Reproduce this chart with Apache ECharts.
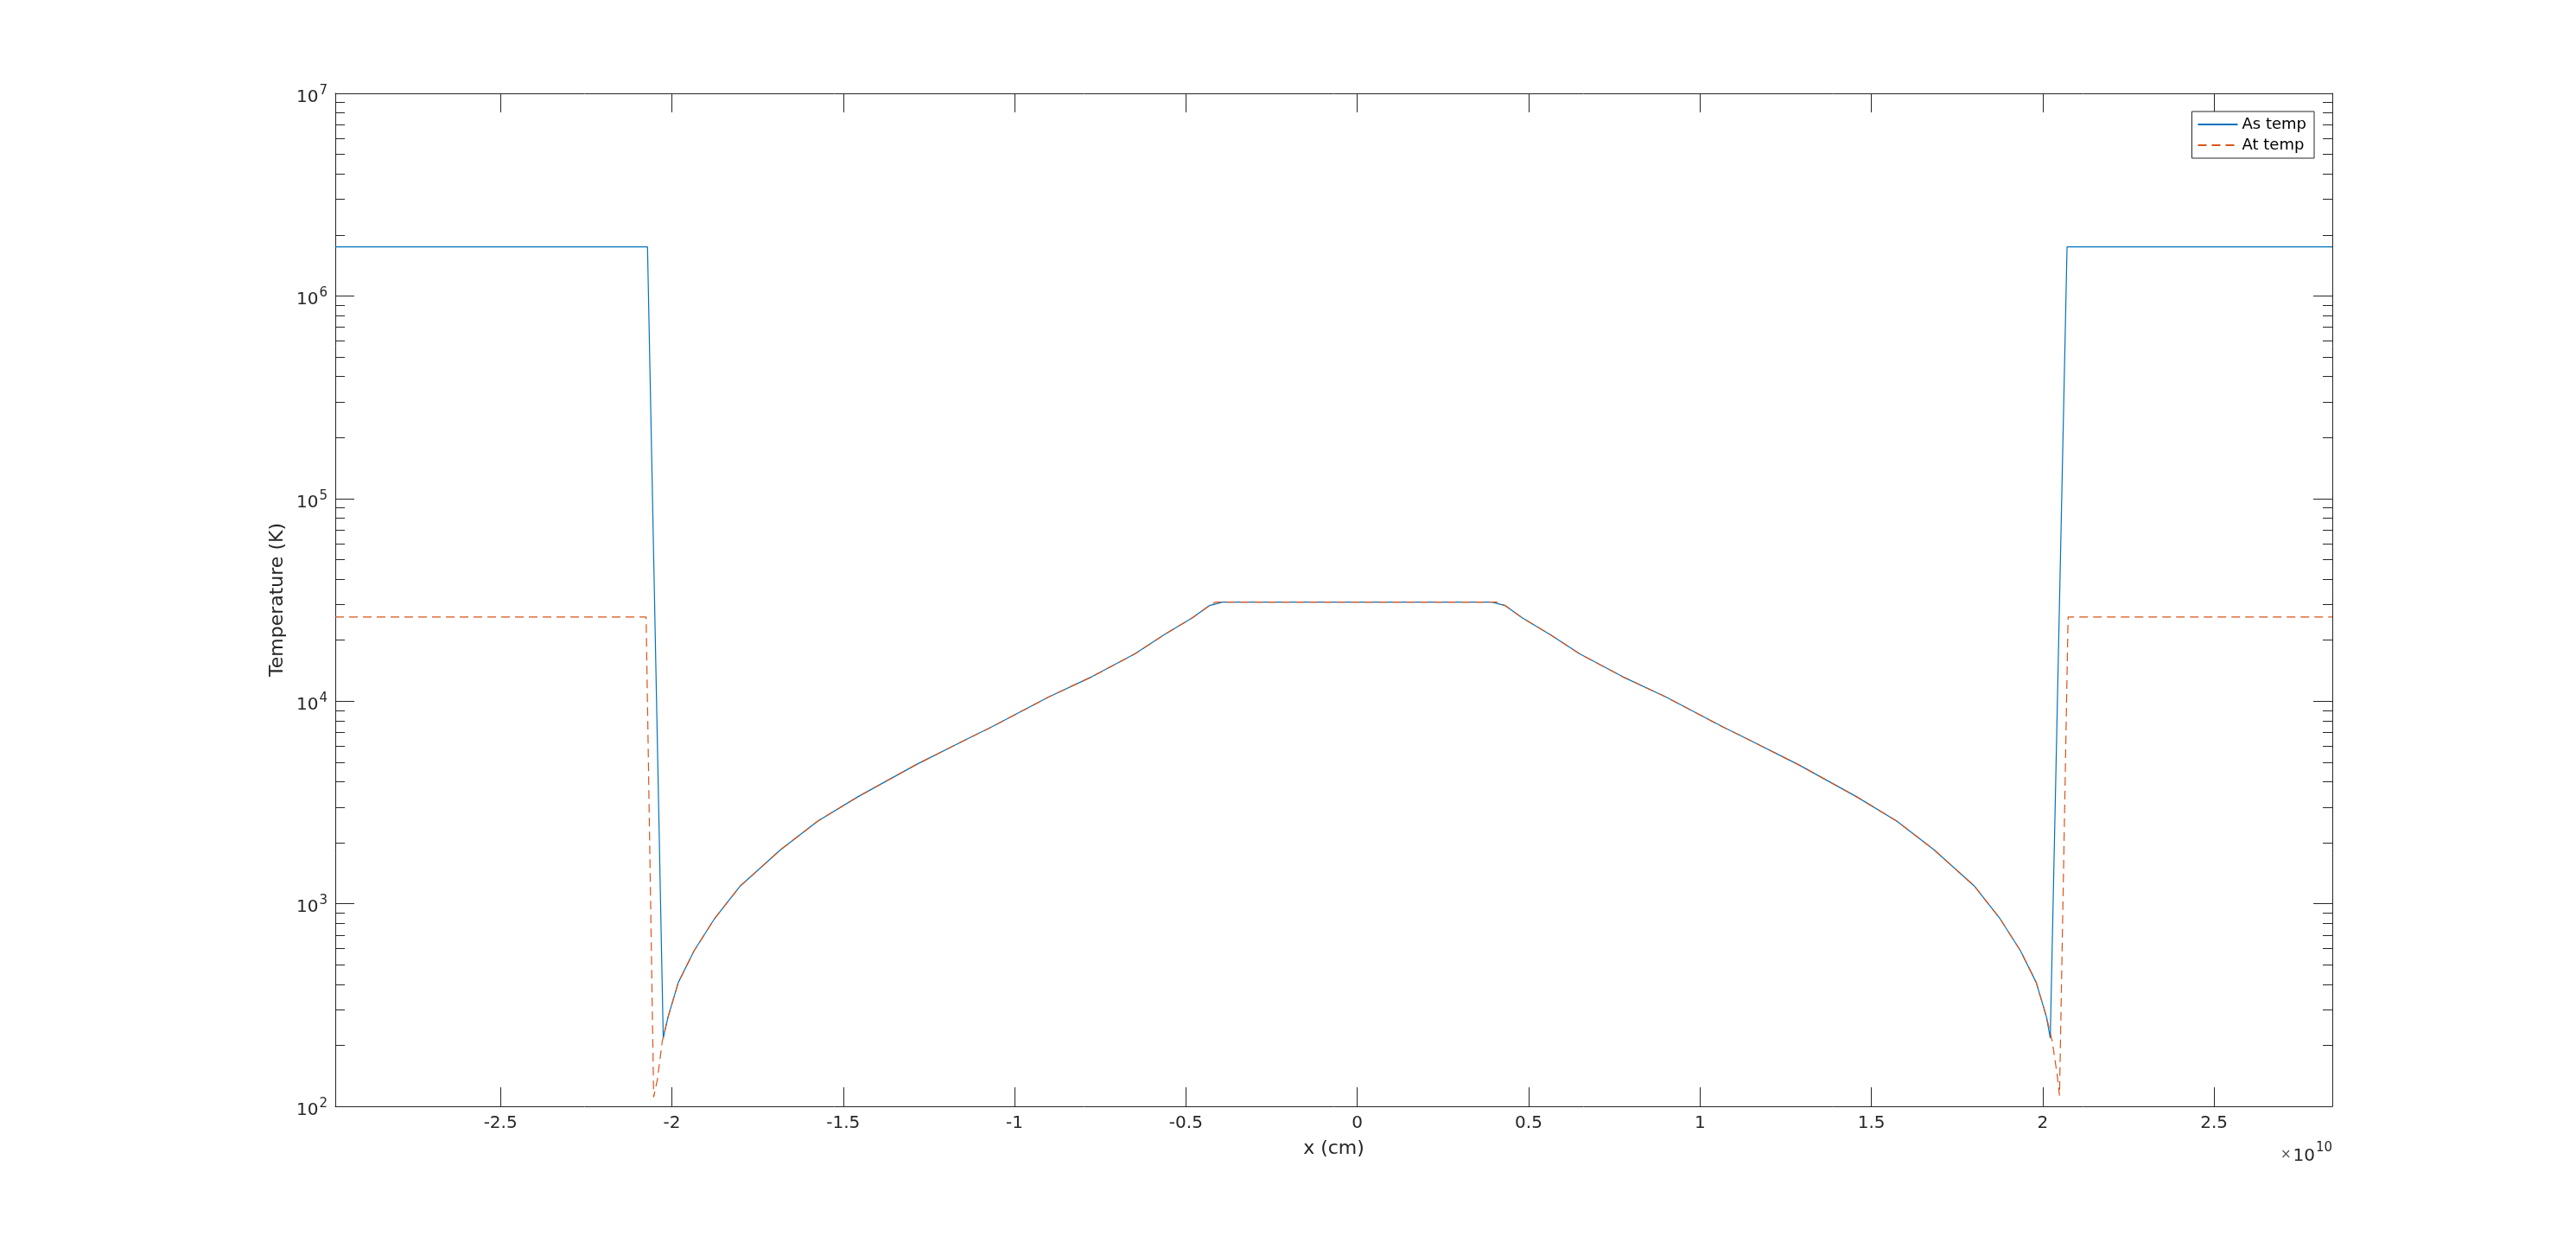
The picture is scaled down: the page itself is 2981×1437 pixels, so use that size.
<!DOCTYPE html>
<html>
<head>
<meta charset="utf-8">
<script src="https://cdn.jsdelivr.net/npm/echarts@6/dist/echarts.min.js"></script>
<style>
  html, body { margin: 0; padding: 0; background: #fff; }
  #chart { width: 2981px; height: 1437px; }
</style>
</head>
<body>
<div id="chart"></div>
<script>
// x positions in units of 1e10 cm (axis shows ×10^10)
const asX = [-2.982, -2.071, -2.025, -2.011, -1.981, -1.935, -1.876, -1.800, -1.683, -1.574, -1.456, -1.288, -1.137, -1.069, -0.901, -0.775, -0.649, -0.565, -0.481, -0.431, -0.393,
             0.393, 0.431, 0.481, 0.565, 0.649, 0.775, 0.901, 1.069, 1.137, 1.288, 1.456, 1.574, 1.683, 1.800, 1.876, 1.935, 1.981, 2.011, 2.022, 2.071, 2.845];
const asT = [1.745e6, 1.745e6, 217, 276, 409, 586, 841, 1225, 1845, 2560, 3380, 4850, 6520, 7420, 10470, 13180, 17100, 21200, 25800, 29650, 30800,
             30800, 29650, 25800, 21200, 17100, 13180, 10470, 7420, 6520, 4850, 3380, 2560, 1845, 1225, 841, 586, 409, 276, 217, 1.745e6, 1.745e6];

const atX = [-2.982, -2.075, -2.053, -2.042, -2.032, -2.028, -2.011, -1.981, -1.935, -1.876, -1.800, -1.683, -1.574, -1.456, -1.288, -1.137, -1.069, -0.901, -0.775, -0.649, -0.565, -0.481, -0.431, -0.414,
             0.406, 0.431, 0.481, 0.565, 0.649, 0.775, 0.901, 1.069, 1.137, 1.288, 1.456, 1.574, 1.683, 1.800, 1.876, 1.935, 1.981, 2.011, 2.028, 2.034, 2.042, 2.049, 2.074, 2.845];
const atT = [26000, 26000, 111, 136, 185, 209, 276, 409, 586, 841, 1225, 1845, 2560, 3380, 4850, 6520, 7420, 10470, 13180, 17100, 21200, 25800, 29650, 30800,
             30800, 29650, 25800, 21200, 17100, 13180, 10470, 7420, 6520, 4850, 3380, 2560, 1845, 1225, 841, 586, 409, 276, 209, 177, 144, 113, 26000, 26000];

const seriesNames = ['As temp', 'At temp'];
const xTicks = [-2.5, -2, -1.5, -1, -0.5, 0, 0.5, 1, 1.5, 2, 2.5];
const yMajor = [1e2, 1e3, 1e4, 1e5, 1e6, 1e7];
const yMinor = [];
[1e2, 1e3, 1e4, 1e5, 1e6].forEach(d => { for (let k = 2; k <= 9; k++) yMinor.push(d * k); });

const xMin = -2.982, xMax = 2.845, yMin = 1e2, yMax = 1e7;
const AX = '#262626';
const FONT = 'DejaVu Sans';

function zip(a, b) { return a.map((v, i) => [v, b[i]]); }

const chart = echarts.init(document.getElementById('chart'), null, { renderer: 'canvas' });

const baseX = {
  type: 'value', min: xMin, max: xMax,
  splitLine: { show: false },
  axisLine: { show: true, onZero: false, lineStyle: { color: AX, width: 1 } },
  axisTick: { show: true, inside: true, length: 22, customValues: xTicks, lineStyle: { color: AX, width: 1 } }
};
const baseY = {
  type: 'log', logBase: 10, min: yMin, max: yMax,
  splitLine: { show: false },
  axisLine: { show: true, onZero: false, lineStyle: { color: AX, width: 1 } }
};

const option = {
  backgroundColor: '#fff',
  animation: false,
  textStyle: { fontFamily: FONT },
  grid: { left: 388, top: 108, right: 282, bottom: 157, containLabel: false },
  legend: {
    data: seriesNames,
    orient: 'vertical',
    right: 303, top: 129,
    itemWidth: 46, itemHeight: 14, itemGap: 6,
    padding: [6, 9, 6, 6],
    borderColor: AX, borderWidth: 1, backgroundColor: '#fff',
    itemStyle: { opacity: 0, borderWidth: 0 },
    textStyle: { fontFamily: FONT, fontSize: 18, color: '#000' }
  },
  xAxis: [
    Object.assign({}, baseX, {
      position: 'bottom',
      name: 'x (cm)', nameLocation: 'middle', nameGap: 38,
      nameTextStyle: { fontFamily: FONT, fontSize: 22, color: AX },
      axisLabel: { show: true, customValues: xTicks, margin: 10, color: AX, fontFamily: FONT, fontSize: 20 }
    }),
    Object.assign({}, baseX, { position: 'top', axisLabel: { show: false } })
  ],
  yAxis: [
    Object.assign({}, baseY, {
      position: 'left',
      name: 'Temperature (K)', nameLocation: 'middle', nameGap: 54,
      nameTextStyle: { fontFamily: FONT, fontSize: 22, color: AX },
      axisTick: { show: true, inside: true, length: 22, customValues: yMajor, lineStyle: { color: AX } },
      axisLabel: {
        show: true, customValues: yMajor, margin: 9, color: AX,
        formatter: v => '{b|10}{s|' + Math.round(Math.log10(v)) + '}',
        rich: {
          b: { fontFamily: FONT, fontSize: 20, color: AX, lineHeight: 20, padding: [9, 0, 0, 0] },
          s: { fontFamily: FONT, fontSize: 15, color: AX, lineHeight: 15, padding: [4, 0, 10, 1] }
        }
      }
    }),
    Object.assign({}, baseY, {
      position: 'left',
      axisLine: { show: false, onZero: false },
      axisTick: { show: true, inside: true, length: 11, customValues: yMinor, lineStyle: { color: AX } },
      axisLabel: { show: false }
    }),
    Object.assign({}, baseY, {
      position: 'right',
      axisTick: { show: true, inside: true, length: 22, customValues: yMajor, lineStyle: { color: AX } },
      axisLabel: { show: false }
    }),
    Object.assign({}, baseY, {
      position: 'right',
      axisLine: { show: false, onZero: false },
      axisTick: { show: true, inside: true, length: 11, customValues: yMinor, lineStyle: { color: AX } },
      axisLabel: { show: false }
    })
  ],
  series: [
    {
      name: seriesNames[0], type: 'line', xAxisIndex: 0, yAxisIndex: 0,
      data: zip(asX, asT), symbol: 'none', showSymbol: false, smooth: false,
      lineStyle: { color: '#0072BD', width: 1.2 }, itemStyle: { color: '#0072BD' },
      clip: true, z: 2
    },
    {
      name: seriesNames[1], type: 'line', xAxisIndex: 0, yAxisIndex: 0,
      data: zip(atX, atT), symbol: 'none', showSymbol: false, smooth: false,
      lineStyle: { color: '#D95319', width: 1.2, type: [10, 6] }, itemStyle: { color: '#D95319' },
      clip: true, z: 3
    }
  ],
  graphic: [
    {
      type: 'text', z: 10,
      style: {
        x: 2699, y: 1334, align: 'right', verticalAlign: 'middle',
        text: '{m|×}{b|10}{s|10}',
        rich: {
          m: { fontFamily: FONT, fontSize: 15, fill: '#555', padding: [4, 2, 0, 0] },
          b: { fontFamily: FONT, fontSize: 20, fill: AX, lineHeight: 20, padding: [8, 0, 0, 0] },
          s: { fontFamily: FONT, fontSize: 15, fill: AX, lineHeight: 15, padding: [0, 0, 12, 1] }
        }
      }
    }
  ]
};

chart.setOption(option);
</script>
</body>
</html>
